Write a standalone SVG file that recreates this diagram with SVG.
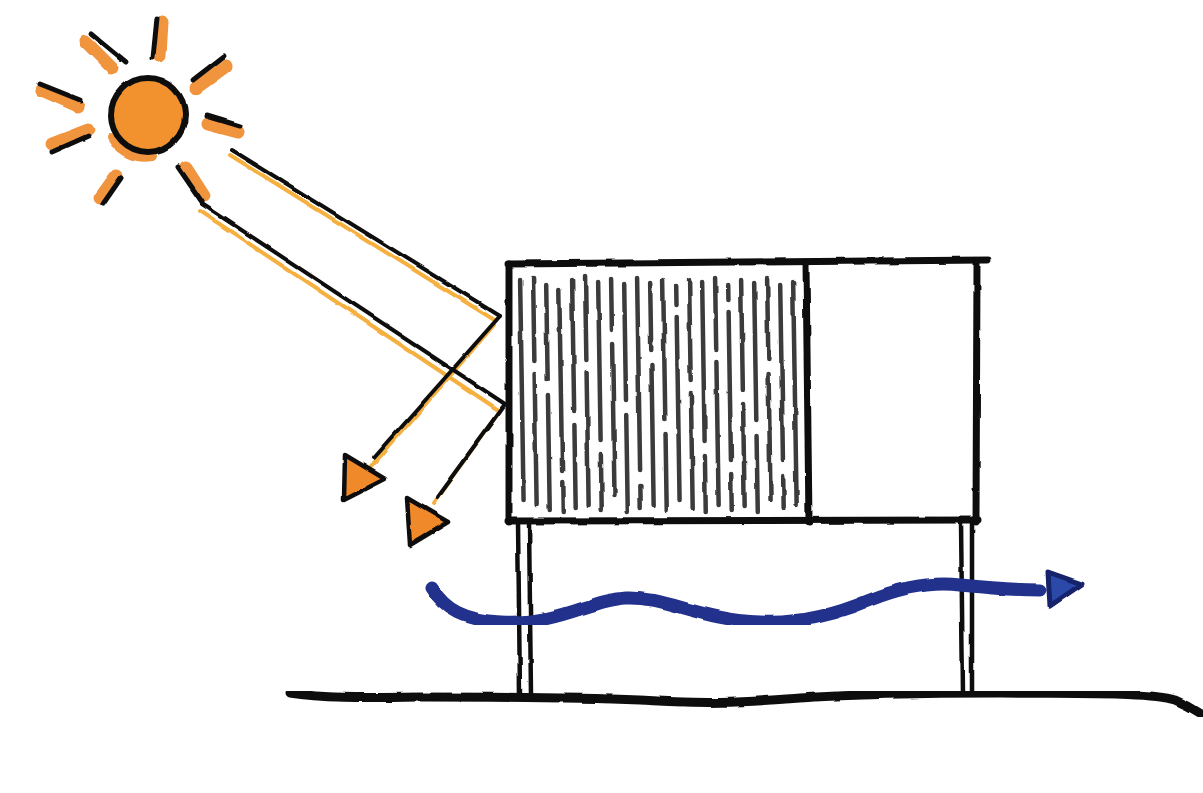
<svg xmlns="http://www.w3.org/2000/svg" width="1203" height="793" viewBox="0 0 1203 793">
  <defs>
    <!-- slight wobble so the ink looks hand drawn -->
    <filter id="rough" x="-5%" y="-5%" width="110%" height="110%">
      <feTurbulence type="fractalNoise" baseFrequency="0.04" numOctaves="2" seed="3" result="n"/>
      <feDisplacementMap in="SourceGraphic" in2="n" scale="3" xChannelSelector="R" yChannelSelector="G"/>
    </filter>
    <style>
      .ink { fill: none; stroke: #111; stroke-linecap: round; stroke-linejoin: round; }
      .box { stroke-width: 7; }
      .post { stroke-width: 4.5; }
      .ray { stroke-width: 5; }
      .glow { fill: none; stroke: #f0892a; stroke-linecap: round; stroke-width: 13; opacity: 0.9; }
      .beam { stroke-width: 4; }
      .beamglow { fill: none; stroke: #f5b040; stroke-linecap: round; stroke-width: 4; }
      .hatch { fill: none; stroke: #3a3a3a; stroke-width: 4.5; stroke-linecap: round; }
      .head { fill: #f0892a; stroke: #111; stroke-width: 4.5; stroke-linejoin: round; }
    </style>
  </defs>

  <rect width="1203" height="793" fill="#ffffff"/>

  <!-- sun -->
  <g id="sun" filter="url(#rough)">
    <g class="glow">
      <path d="M86 42 L112 68"/>
      <path d="M162 22 L160 56"/>
      <path d="M196 88 L226 66"/>
      <path d="M42 90 L78 106"/>
      <path d="M208 124 L238 132"/>
      <path d="M52 144 L88 130"/>
      <path d="M100 198 L116 176"/>
      <path d="M186 168 L204 196"/>
      <path d="M112 138 A38 38 0 0 0 152 156" stroke-width="10"/>
    </g>
    <g class="ink ray">
      <path d="M92 34 L126 62"/>
      <path d="M157 18 L153 58"/>
      <path d="M193 80 L224 56"/>
      <path d="M40 84 L80 100"/>
      <path d="M207 116 L240 126"/>
      <path d="M52 152 L88 136"/>
      <path d="M103 204 L121 178"/>
      <path d="M178 167 L202 202"/>
    </g>
    <circle cx="148" cy="115" r="37" fill="#f2922e" stroke="#111" stroke-width="6"/>
  </g>

  <!-- building -->
  <g id="building" filter="url(#rough)">
    <g class="hatch" transform="translate(0,400) skewX(0.9) translate(0,-400)">
      <path d="M522 280 V500"/>
      <path d="M535 278 V360 M535 374 V505"/>
      <path d="M548 285 V380 M548 395 V510"/>
      <path d="M561 290 V470 M561 482 V512"/>
      <path d="M574 280 V410 M574 425 V508"/>
      <path d="M587 276 V360 M587 372 V505"/>
      <path d="M600 282 V440 M600 454 V510"/>
      <path d="M613 279 V330 M613 344 V495"/>
      <path d="M626 285 V400 M626 414 V512"/>
      <path d="M639 278 V470 M639 486 V508"/>
      <path d="M652 283 V350 M652 364 V505"/>
      <path d="M665 280 V420 M665 434 V510"/>
      <path d="M678 286 V305 M678 317 V500"/>
      <path d="M691 279 V380 M691 394 V508"/>
      <path d="M704 282 V440 M704 456 V512"/>
      <path d="M717 278 V350 M717 362 V505"/>
      <path d="M730 285 V300 M730 312 V460 M730 474 V510"/>
      <path d="M743 280 V390 M743 404 V506"/>
      <path d="M756 283 V420 M756 436 V512"/>
      <path d="M769 279 V360 M769 374 V500"/>
      <path d="M782 285 V460 M782 476 V508"/>
      <path d="M795 282 V505"/>
    </g>
    <g class="ink box">
      <path d="M508 264 L988 260"/>
      <path d="M509 264 L509 522"/>
      <path d="M806 262 L809 522"/>
      <path d="M977 262 L976 522"/>
      <path d="M508 521 L978 520"/>
    </g>
    <g class="ink post">
      <path d="M518 522 L520 696"/>
      <path d="M529 522 L531 696"/>
      <path d="M961 522 L963 694"/>
      <path d="M972 522 L972 694"/>
    </g>
  </g>

  <!-- ground -->
  <g id="ground" filter="url(#rough)">
    <path class="ink" stroke-width="9" d="M290 693 C320 698 360 698 420 697 C480 697 560 697 640 700 C700 704 740 703 800 698 C860 694 920 693 1000 693 C1080 694 1150 692 1175 700 C1190 706 1198 712 1203 715"/>
  </g>

  <!-- air flow under the building -->
  <g id="airflow" filter="url(#rough)">
    <path d="M432 588 C445 610 465 620 500 622 C560 625 590 600 625 598 C665 596 700 620 760 622 C800 624 835 615 870 600 C905 586 935 582 960 585 C990 588 1010 590 1040 590" fill="none" stroke="#23328c" stroke-width="13" stroke-linecap="round"/>
    <path d="M1048 572 L1082 584 L1050 606 Z" fill="#2a4aa8" stroke="#14206a" stroke-width="5" stroke-linejoin="round"/>
  </g>

  <!-- sun rays bouncing off the facade -->
  <g id="connectors" filter="url(#rough)">
    <g class="beamglow">
      <path d="M230 155 L496 321"/>
      <path d="M200 211 L500 411"/>
      <path d="M494 325 L371 467"/>
      <path d="M500 411 L433 503"/>
    </g>
    <g class="ink beam">
      <path d="M232 150 L500 316"/>
      <path d="M202 204 L505 404"/>
      <path d="M500 316 L374 458"/>
      <path d="M505 404 L437 497"/>
    </g>
    <path class="head" d="M345 455 L385 479 L344 500 Z"/>
    <path class="head" d="M407 498 L448 522 L410 545 Z"/>
  </g>
</svg>
